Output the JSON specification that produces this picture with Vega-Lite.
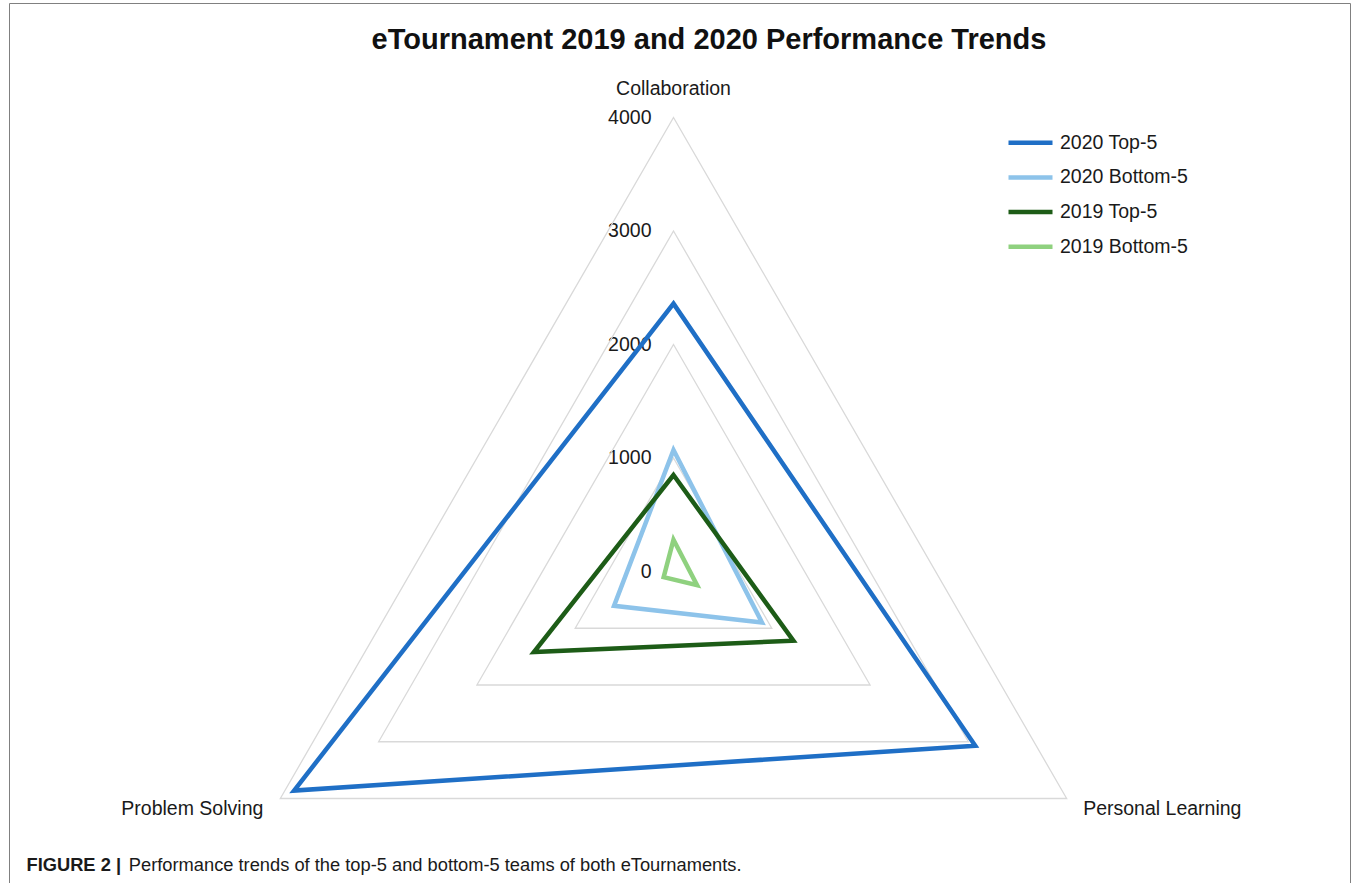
{
  "$schema": "https://vega.github.io/schema/vega-lite/v6.json",
  "width": 1341,
  "height": 880,
  "padding": {"left": 9, "top": 3, "right": 5, "bottom": 0},
  "autosize": {"type": "none"},
  "background": "white",
  "config": {"view": {"stroke": "#808080", "strokeWidth": 1}, "font": "Liberation Sans"},
  "title": {
    "text": "eTournament 2019 and 2020 Performance Trends",
    "fontSize": 29,
    "fontWeight": "bold",
    "font": "Liberation Sans",
    "color": "#111111",
    "anchor": "middle",
    "frame": "group",
    "dx": 29.5,
    "dy": 29,
    "offset": -46.3,
    "baseline": "alphabetic"
  },
  "datasets": {
    "scores": [
      {"series": "2020 Top-5", "axis": "Collaboration", "value": 2360},
      {"series": "2020 Top-5", "axis": "Personal Learning", "value": 3070},
      {"series": "2020 Top-5", "axis": "Problem Solving", "value": 3860},
      {"series": "2020 Bottom-5", "axis": "Collaboration", "value": 1070},
      {"series": "2020 Bottom-5", "axis": "Personal Learning", "value": 900},
      {"series": "2020 Bottom-5", "axis": "Problem Solving", "value": 605},
      {"series": "2019 Top-5", "axis": "Collaboration", "value": 850},
      {"series": "2019 Top-5", "axis": "Personal Learning", "value": 1220},
      {"series": "2019 Top-5", "axis": "Problem Solving", "value": 1420},
      {"series": "2019 Bottom-5", "axis": "Collaboration", "value": 280},
      {"series": "2019 Bottom-5", "axis": "Personal Learning", "value": 240},
      {"series": "2019 Bottom-5", "axis": "Problem Solving", "value": 100}
    ],
    "grid": [
      {"level": 1000, "axis": "Collaboration"},
      {"level": 1000, "axis": "Personal Learning"},
      {"level": 1000, "axis": "Problem Solving"},
      {"level": 2000, "axis": "Collaboration"},
      {"level": 2000, "axis": "Personal Learning"},
      {"level": 2000, "axis": "Problem Solving"},
      {"level": 3000, "axis": "Collaboration"},
      {"level": 3000, "axis": "Personal Learning"},
      {"level": 3000, "axis": "Problem Solving"},
      {"level": 4000, "axis": "Collaboration"},
      {"level": 4000, "axis": "Personal Learning"},
      {"level": 4000, "axis": "Problem Solving"}
    ]
  },
  "encoding": {
    "x": {
      "field": "x",
      "type": "quantitative",
      "scale": {"domain": [-5854.6, 5960.4], "nice": false, "zero": false},
      "axis": {
        "title": "Performance trends of the top-5 and bottom-5 teams of both eTournaments.",
        "orient": "bottom",
        "labels": false,
        "ticks": false,
        "domain": false,
        "grid": false,
        "titleX": 119.3,
        "titleY": -13,
        "titleAlign": "left",
        "titleBaseline": "alphabetic",
        "titleFontSize": 18.3,
        "titleFontWeight": "normal",
        "titleColor": "#1a1a1a",
        "titleFont": "Liberation Sans"
      }
    },
    "y": {
      "field": "y",
      "type": "quantitative",
      "scale": {"domain": [-2744.5, 5008.8], "nice": false, "zero": false},
      "axis": {
        "values": [0, 1000, 2000, 3000, 4000],
        "format": "d",
        "offset": -664.5,
        "domain": false,
        "ticks": false,
        "tickSize": 0,
        "grid": false,
        "labelPadding": 22.5,
        "labelFontSize": 19.5,
        "labelColor": "#1a1a1a",
        "labelFont": "Liberation Sans",
        "title": "FIGURE 2 |",
        "titleAngle": 0,
        "titleX": -647.5,
        "titleY": 867,
        "titleAlign": "left",
        "titleBaseline": "alphabetic",
        "titleFontSize": 18.3,
        "titleFontWeight": "bold",
        "titleColor": "#1a1a1a",
        "titleFont": "Liberation Sans"
      }
    }
  },
  "layer": [
    {
      "data": {"name": "grid"},
      "transform": [
        {"calculate": "datum.axis === 'Collaboration' ? 90 : (datum.axis === 'Personal Learning' ? -30 : 210)", "as": "ang"},
        {"calculate": "datum.axis === 'Collaboration' ? 0 : (datum.axis === 'Personal Learning' ? 1 : 2)", "as": "k"},
        {"calculate": "datum.level * cos(datum.ang * PI / 180)", "as": "x"},
        {"calculate": "datum.level * sin(datum.ang * PI / 180)", "as": "y"}
      ],
      "mark": {"type": "line", "interpolate": "linear-closed", "stroke": "#d9d9d9", "strokeWidth": 1.3},
      "encoding": {
        "detail": {"field": "level", "type": "nominal"},
        "order": {"field": "k", "type": "quantitative"}
      }
    },
    {
      "data": {"name": "scores"},
      "transform": [
        {"calculate": "datum.axis === 'Collaboration' ? 90 : (datum.axis === 'Personal Learning' ? -30 : 210)", "as": "ang"},
        {"calculate": "datum.axis === 'Collaboration' ? 0 : (datum.axis === 'Personal Learning' ? 1 : 2)", "as": "k"},
        {"calculate": "datum.value * cos(datum.ang * PI / 180)", "as": "x"},
        {"calculate": "datum.value * sin(datum.ang * PI / 180)", "as": "y"}
      ],
      "mark": {"type": "line", "interpolate": "linear-closed", "strokeWidth": 4.5},
      "encoding": {
        "color": {
          "field": "series",
          "type": "nominal",
          "scale": {
            "domain": ["2020 Top-5", "2020 Bottom-5", "2019 Top-5", "2019 Bottom-5"],
            "range": ["#1f6fc6", "#8dc3ea", "#1d5c17", "#8fd17f"]
          },
          "legend": {
            "title": null,
            "orient": "none",
            "legendX": 997,
            "legendY": 129.7,
            "symbolType": "stroke",
            "symbolSize": 1936,
            "symbolStrokeWidth": 4.5,
            "clipHeight": 20,
            "rowPadding": 14.7,
            "labelFontSize": 19.5,
            "labelFont": "Liberation Sans",
            "labelColor": "#1a1a1a",
            "labelOffset": 5,
            "padding": 0
          }
        },
        "order": {"field": "k", "type": "quantitative"}
      }
    },
    {
      "data": {"name": "grid"},
      "transform": [
        {"filter": "datum.level === 4000 && datum.axis === 'Collaboration'"},
        {"calculate": "datum.level * cos(90 * PI / 180)", "as": "x"},
        {"calculate": "datum.level * sin(90 * PI / 180)", "as": "y"}
      ],
      "mark": {"type": "text", "fontSize": 19.5, "font": "Liberation Sans", "color": "#1a1a1a", "align": "center", "baseline": "alphabetic", "dy": -22},
      "encoding": {"text": {"field": "axis", "type": "nominal"}}
    },
    {
      "data": {"name": "grid"},
      "transform": [
        {"filter": "datum.level === 4000 && datum.axis === 'Personal Learning'"},
        {"calculate": "datum.level * cos(-30 * PI / 180)", "as": "x"},
        {"calculate": "datum.level * sin(-30 * PI / 180)", "as": "y"}
      ],
      "mark": {"type": "text", "fontSize": 19.5, "font": "Liberation Sans", "color": "#1a1a1a", "align": "left", "baseline": "alphabetic", "dx": 16.5, "dy": 16.5},
      "encoding": {"text": {"field": "axis", "type": "nominal"}}
    },
    {
      "data": {"name": "grid"},
      "transform": [
        {"filter": "datum.level === 4000 && datum.axis === 'Problem Solving'"},
        {"calculate": "datum.level * cos(210 * PI / 180)", "as": "x"},
        {"calculate": "datum.level * sin(210 * PI / 180)", "as": "y"}
      ],
      "mark": {"type": "text", "fontSize": 19.5, "font": "Liberation Sans", "color": "#1a1a1a", "align": "right", "baseline": "alphabetic", "dx": -17, "dy": 16.5},
      "encoding": {"text": {"field": "axis", "type": "nominal"}}
    }
  ]
}
